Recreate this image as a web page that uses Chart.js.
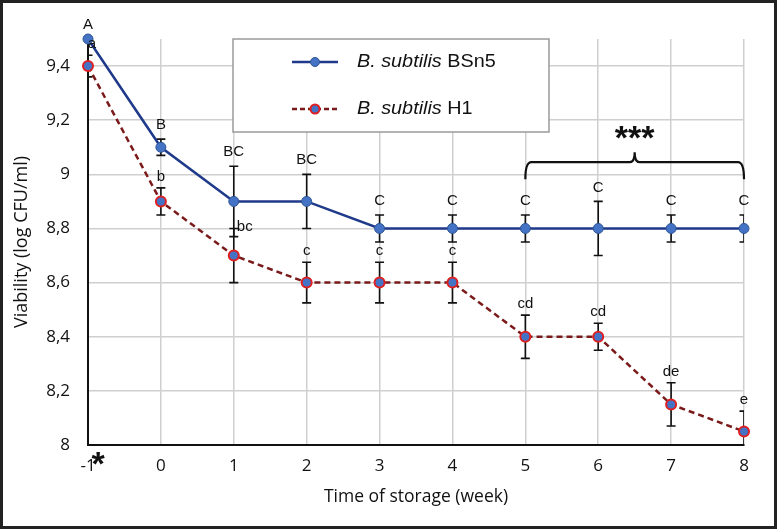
<!DOCTYPE html>
<html>
<head>
<meta charset="utf-8">
<script src="https://cdn.jsdelivr.net/npm/chart.js@4.4.1/dist/chart.umd.min.js"></script>
<style>
  html, body { margin: 0; padding: 0; background: #fff; }
  .chart-container { position: relative; width: 777px; height: 529px; }
</style>
</head>
<body>
<div class="chart-container">
  <canvas id="myChart"></canvas>
</div>
<script>
// Weeks of storage (x axis)
const weeks = ["-1", "0", "1", "2", "3", "4", "5", "6", "7", "8"];

// Viability (log CFU/ml)
const bsn5Values = [9.5, 9.1, 8.9, 8.9, 8.8, 8.8, 8.8, 8.8, 8.8, 8.8];
const h1Values = [9.4, 8.9, 8.7, 8.6, 8.6, 8.6, 8.4, 8.4, 8.15, 8.05];

// Error bar half widths
const bsn5Errors = [0, 0.03, 0.13, 0.1, 0.05, 0.05, 0.05, 0.1, 0.05, 0.05];
const h1Errors = [0.04, 0.05, 0.1, 0.075, 0.075, 0.075, 0.08, 0.05, 0.08, 0.075];

// Significance letters
const bsn5Letters = ["A", "B", "BC", "BC", "C", "C", "C", "C", "C", "C"];
const h1Letters = ["a", "b", "bc", "c", "c", "c", "cd", "cd", "de", "e"];

const yTicks = [8, 8.2, 8.4, 8.6, 8.8, 9, 9.2, 9.4];

const BLUE_LINE = "#1f3a8a";
const MARKER_BLUE = "#4472c4";
const RED_LINE = "#7a1a1a";
const RED_EDGE = "#e02020";
const ARIAL = "'Liberation Sans', Arial, sans-serif";

// error bars under the lines, letters / brace / legend on top
const errorBarPlugin = {
  id: "errorBars",
  beforeDatasetsDraw(chart) {
    const { ctx, chartArea, scales: { x, y } } = chart;
    ctx.save();
    ctx.beginPath();
    ctx.rect(chartArea.left, chartArea.top - 5, chartArea.right - chartArea.left, chartArea.bottom - chartArea.top + 5);
    ctx.clip();
    ctx.strokeStyle = "#111";
    ctx.lineWidth = 1.6;
    [[bsn5Values, bsn5Errors], [h1Values, h1Errors]].forEach(([vals, errs]) => {
      vals.forEach((v, i) => {
        if (!errs[i]) return;
        const px = x.getPixelForValue(i);
        const top = y.getPixelForValue(v + errs[i]);
        const bot = y.getPixelForValue(v - errs[i]);
        ctx.beginPath();
        ctx.moveTo(px, top); ctx.lineTo(px, bot);
        ctx.moveTo(px - 4.5, top); ctx.lineTo(px + 4.5, top);
        ctx.moveTo(px - 4.5, bot); ctx.lineTo(px + 4.5, bot);
        ctx.stroke();
      });
    });
    ctx.restore();
  },
  afterDraw(chart) {
    const { ctx, chartArea, scales: { x, y } } = chart;
    ctx.save();
    ctx.fillStyle = "#111";
    ctx.textAlign = "center";
    ctx.textBaseline = "middle";
    ctx.font = "15px " + ARIAL;
    bsn5Letters.forEach((t, i) => {
      const px = x.getPixelForValue(i);
      const py = y.getPixelForValue(bsn5Values[i] + bsn5Errors[i]) - 14;
      ctx.fillText(t, px, py);
    });
    h1Letters.forEach((t, i) => {
      let px = x.getPixelForValue(i);
      let py = y.getPixelForValue(h1Values[i] + h1Errors[i]) - 11;
      if (t === "bc") { px += 11; py += 9; }
      if (i === 0) { px += 4; }
      ctx.fillText(t, px, py);
    });

    // brace over weeks 5..8
    const x5 = x.getPixelForValue(6), x8 = x.getPixelForValue(9);
    const xm = (x5 + x8) / 2;
    const by = y.getPixelForValue(9.045);
    ctx.strokeStyle = "#111";
    ctx.lineWidth = 2.2;
    ctx.beginPath();
    ctx.moveTo(x5, by + 17);
    ctx.quadraticCurveTo(x5, by, x5 + 6, by);
    ctx.lineTo(xm - 5, by);
    ctx.quadraticCurveTo(xm, by, xm, by - 10);
    ctx.quadraticCurveTo(xm, by, xm + 5, by);
    ctx.lineTo(x8 - 6, by);
    ctx.quadraticCurveTo(x8, by, x8, by + 17);
    ctx.stroke();
    ctx.textBaseline = "alphabetic";
    ctx.font = "bold 34px " + ARIAL;
    ctx.fillText("***", xm, by - 33 + 0.58 * 34);

    // star next to -1
    ctx.fillText("*", chartArea.left + 10, chartArea.bottom + 10 + 0.58 * 34);

    // legend box
    const lx = 233, ly = 39, lw = 316, lh = 93;
    ctx.fillStyle = "#fff";
    ctx.fillRect(lx, ly, lw, lh);
    ctx.strokeStyle = "#9a9a9a";
    ctx.lineWidth = 1.5;
    ctx.strokeRect(lx, ly, lw, lh);
    ctx.textBaseline = "middle";
    const rows = [
      { y: 62, name: "BSn5", line: BLUE_LINE, dash: [], edge: "#2f5597", ew: 1 },
      { y: 109, name: "H1", line: RED_LINE, dash: [5, 3], edge: RED_EDGE, ew: 2 }
    ];
    rows.forEach(r => {
      ctx.strokeStyle = r.line;
      ctx.lineWidth = 2.5;
      ctx.setLineDash(r.dash);
      ctx.beginPath();
      ctx.moveTo(292, r.y); ctx.lineTo(338, r.y);
      ctx.stroke();
      ctx.setLineDash([]);
      ctx.beginPath();
      ctx.arc(315, r.y, 4.5, 0, Math.PI * 2);
      ctx.fillStyle = MARKER_BLUE;
      ctx.fill();
      ctx.strokeStyle = r.edge;
      ctx.lineWidth = r.ew;
      ctx.stroke();
      // text is a bit wide in the original, stretch horizontally
      ctx.save();
      ctx.translate(357, r.y);
      ctx.scale(1.1, 1);
      ctx.fillStyle = "#111";
      ctx.textAlign = "left";
      ctx.font = "italic 18px " + ARIAL;
      const it = "B. subtilis";
      ctx.fillText(it, 0, 0);
      const w = ctx.measureText(it + " ").width;
      ctx.font = "18px " + ARIAL;
      ctx.fillText(r.name, w, 0);
      ctx.restore();
    });

    // outer frame
    ctx.strokeStyle = "#222";
    ctx.lineWidth = 3;
    ctx.strokeRect(1.5, 1.5, chart.width - 3, chart.height - 3);
    ctx.restore();
  }
};

const fmt = v => String(Math.round(v * 10) / 10).replace(".", ",");

new Chart(document.getElementById("myChart").getContext("2d"), {
  type: "line",
  data: {
    labels: weeks,
    datasets: [
      {
        label: "B. subtilis BSn5",
        data: bsn5Values,
        borderColor: BLUE_LINE,
        borderWidth: 2.5,
        pointRadius: 5,
        pointBackgroundColor: MARKER_BLUE,
        pointBorderColor: "#2f5597",
        pointBorderWidth: 1,
        tension: 0,
        clip: false
      },
      {
        label: "B. subtilis H1",
        data: h1Values,
        borderColor: RED_LINE,
        borderWidth: 2.5,
        borderDash: [6, 4],
        pointRadius: 5,
        pointBackgroundColor: MARKER_BLUE,
        pointBorderColor: RED_EDGE,
        pointBorderWidth: 2,
        tension: 0,
        clip: false
      }
    ]
  },
  options: {
    responsive: true,
    maintainAspectRatio: false,
    animation: false,
    layout: { padding: { top: 39, right: 33, left: 0, bottom: 0 } },
    plugins: { legend: { display: false }, tooltip: { enabled: false } },
    scales: {
      x: {
        offset: false,
        grid: { color: "#cfcfcf", lineWidth: 1.5, drawTicks: false },
        border: { color: "#111", width: 2 },
        ticks: { color: "#111", padding: 11, font: { family: "'Open Sans', sans-serif", size: 17 }, maxRotation: 0 },
        title: {
          display: true,
          text: "Time of storage (week)",
          color: "#111",
          font: { family: "'Open Sans', sans-serif", size: 17.5 },
          padding: { top: 0, bottom: 21 }
        },
        afterFit(scale) { scale.height = 84; }
      },
      y: {
        min: 8,
        max: 9.5,
        grid: { color: "#cfcfcf", lineWidth: 1.5, drawTicks: false },
        border: { color: "#111", width: 2 },
        afterBuildTicks(scale) { scale.ticks = yTicks.map(v => ({ value: v })); },
        ticks: {
          color: "#111",
          padding: 18,
          font: { family: "'Open Sans', sans-serif", size: 17 },
          callback: v => fmt(v)
        },
        title: {
          display: true,
          text: "Viability (log CFU/ml)",
          color: "#111",
          font: { family: "'Open Sans', sans-serif", size: 18 },
          padding: { top: 11, bottom: 0 }
        },
        afterFit(scale) { scale.width = 88; }
      }
    }
  },
  plugins: [errorBarPlugin]
});
</script>
</body>
</html>
